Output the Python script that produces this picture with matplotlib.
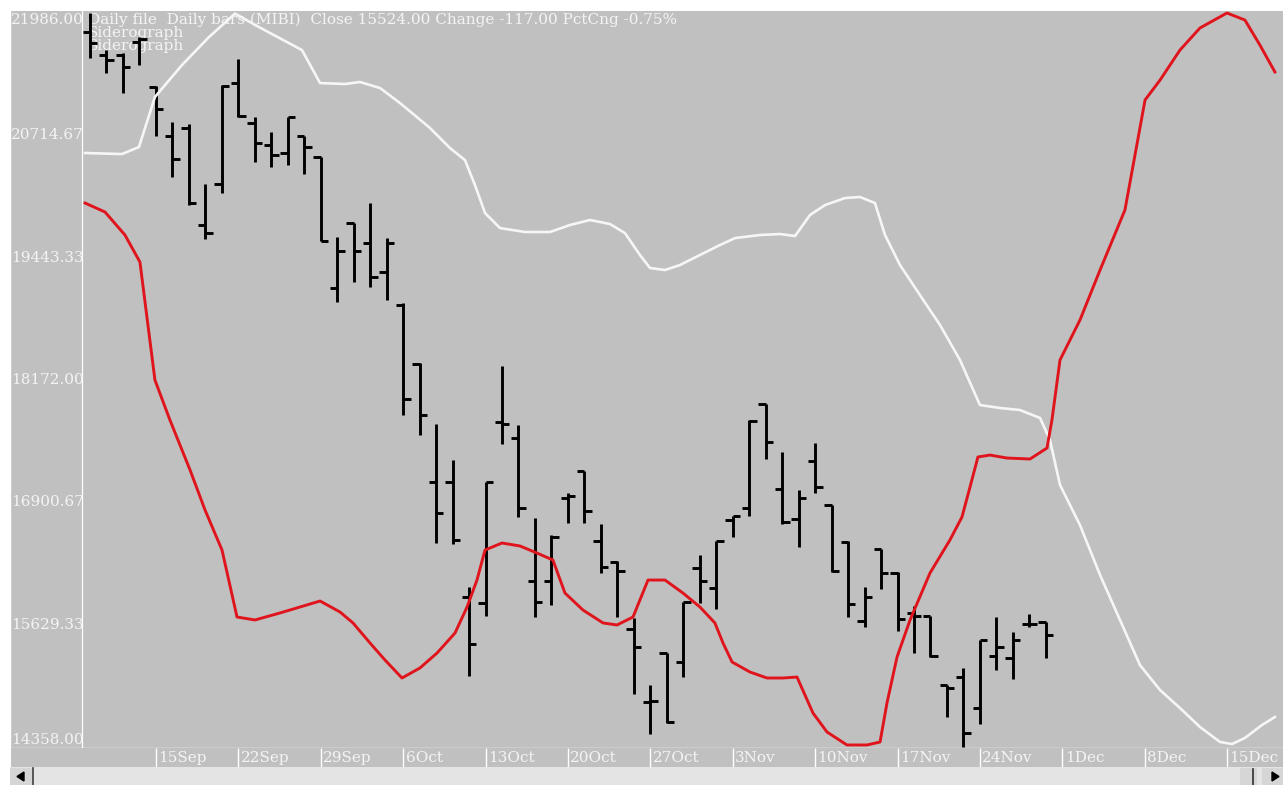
import numpy as np
import matplotlib
matplotlib.use("Agg")
import matplotlib.pyplot as plt
from matplotlib.patches import Rectangle, Polygon

# ---------------- data ----------------
bar_open = [21788, 21549, 21549, 21684, 21217, 20708, 20791, 19783, 20209, 21258,
            20843, 20614, 20531, 20708, 20489, 19128, 19803, 19596, 19294, 18951,
            18339, 17112, 17112, 15917, 15854, 17735, 17569, 16083, 16083, 16946,
            17226, 16499, 16281, 15584, 14826, 15335, 15241, 16218, 16010, 16717,
            16842, 17922, 17039, 16727, 17330, 16873, 16488, 15667, 16416, 16166,
            15751, 15719, 15002, 15085, 14763, 15304, 15283, 15636, 15657]
bar_high = [21986, 21601, 21570, 21736, 21227, 20853, 20832, 20209, 21238, 21508,
            20905, 20749, 20905, 20708, 20489, 19658, 19803, 20011, 19648, 18972,
            18349, 17715, 17341, 16021, 17112, 18317, 17704, 16738, 16561, 16998,
            17226, 16675, 16291, 15699, 15002, 15335, 15865, 16353, 16499, 16759,
            17756, 17922, 17424, 17029, 17517, 16873, 16499, 16021, 16416, 16177,
            15823, 15719, 15002, 15179, 15470, 15709, 15553, 15740, 15657]
bar_low = [21518, 21362, 21154, 21445, 20708, 20281, 19990, 19637, 20115, 20905,
           20437, 20385, 20406, 20313, 19616, 18982, 19190, 19138, 19003, 17808,
           17600, 16478, 16468, 15096, 15719, 17507, 16748, 15709, 15834, 16686,
           16686, 16166, 15709, 14909, 14493, 14607, 15085, 15854, 15792, 16540,
           16759, 17351, 16675, 16436, 16998, 16177, 15709, 15605, 16000, 15563,
           15335, 15293, 14670, 14358, 14597, 15158, 15065, 15605, 15283]
bar_close = [21674, 21497, 21425, 21716, 20988, 20468, 20011, 19699, 21227, 20915,
             20635, 20510, 20905, 20593, 19616, 19512, 19512, 19242, 19596, 17974,
             17808, 16790, 16509, 15428, 17112, 17715, 16842, 15865, 16540, 16966,
             16811, 16229, 16187, 15397, 14836, 14618, 15865, 16083, 16499, 16759,
             17746, 17528, 16696, 16946, 17060, 16187, 15844, 15917, 16166, 15688,
             15719, 15304, 14971, 14503, 15470, 15397, 15470, 15641, 15524]

# Siderograph curves (x in trading-day units, bar 0 = first bar)
white_x = [-0.30, 1.94, 2.97, 3.94, 5.58, 7.22, 8.80, 10.25, 12.86, 13.96, 15.47, 16.38,
           17.60, 18.81, 20.63, 21.84, 22.75, 23.36, 23.97, 24.88, 26.40, 27.91, 29.13,
           30.34, 31.55, 32.46, 33.37, 33.98, 34.89, 35.80, 37.01, 38.23, 39.14, 40.66,
           41.87, 42.78, 43.69, 44.60, 45.81, 46.72, 47.63, 48.24, 49.15, 50.36, 51.58,
           52.79, 54.00, 55.22, 56.43, 57.65, 58.25, 58.86, 60.07, 61.29, 62.50, 63.71,
           64.93, 66.14, 67.35, 68.57, 69.30, 70.08, 71.12, 71.90]
white_v = [20531, 20520, 20593, 21113, 21445, 21736, 21980, 21840, 21601, 21258, 21248, 21269,
           21206, 21050, 20791, 20583, 20458, 20198, 19907, 19751, 19710, 19710, 19783,
           19835, 19793, 19699, 19471, 19336, 19315, 19367, 19471, 19575, 19647, 19679,
           19689, 19668, 19887, 19990, 20063, 20074, 20011, 19679, 19367, 19055, 18743,
           18380, 17912, 17881, 17860, 17777, 17548, 17081, 16665, 16145, 15678, 15210,
           14950, 14763, 14566, 14410, 14389, 14452, 14587, 14670]
red_x = [-0.30, 0.91, 2.12, 3.03, 3.94, 4.85, 6.07, 6.98, 8.01, 8.92, 10.01, 11.53, 13.96,
         15.17, 15.96, 16.99, 17.90, 18.93, 20.02, 21.06, 22.15, 22.88, 23.48, 23.97, 25.00,
         26.09, 27.12, 28.09, 28.82, 29.91, 31.13, 31.98, 32.95, 33.86, 34.89, 35.98, 37.01,
         37.92, 38.41, 38.96, 40.05, 41.08, 42.05, 42.90, 43.87, 44.72, 45.93, 47.15, 47.94,
         48.36, 48.97, 49.76, 50.97, 52.18, 52.91, 53.40, 53.88, 54.61, 55.64, 57.04, 58.07,
         58.37, 58.86, 60.07, 61.29, 62.80, 64.02, 64.93, 66.14, 67.35, 68.99, 70.08, 70.99,
         71.90]
red_v = [20011, 19918, 19679, 19398, 18172, 17756, 17237, 16821, 16405, 15709, 15678, 15751,
         15875, 15761, 15647, 15439, 15262, 15075, 15179, 15335, 15543, 15813, 16093, 16405,
         16478, 16447, 16374, 16301, 15958, 15782, 15647, 15626, 15709, 16093, 16093, 15958,
         15813, 15647, 15439, 15241, 15137, 15075, 15075, 15085, 14711, 14514, 14379, 14379,
         14410, 14815, 15293, 15678, 16166, 16509, 16748, 17060, 17372, 17392, 17361, 17351,
         17465, 17756, 18380, 18795, 19315, 19939, 21082, 21289, 21601, 21830, 21986, 21913,
         21653, 21373]

y_labels = ["21986.00", "20714.67", "19443.33", "18172.00", "16900.67", "15629.33", "14358.00"]
week_labels = ["15Sep", "22Sep", "29Sep", "6Oct", "13Oct", "20Oct", "27Oct", "3Nov",
               "10Nov", "17Nov", "24Nov", "1Dec", "8Dec", "15Dec"]
first_monday_bar = 4
title_text = "Daily file  Daily bars (MIBI)  Close 15524.00 Change -117.00 PctCng -0.75%"
legend_lines = ["Siderograph", "Siderograph"]

# ---------------- layout ----------------
W, H = 1286, 785
BG = "#C0C0C0"
TXT = "#F4F4F4"
FONT = "DejaVu Serif"

fig = plt.figure(figsize=(W / 100, H / 100), dpi=100, facecolor="white")

def fx(px):
    return px / W

def fy(py):
    return 1 - py / H

x0_px, bar_px = 90.0, 16.48
vmin, vmax = 14358.0, 21986.0
py_min, py_max = 747.0, 13.0
per_px = (vmax - vmin) / (py_min - py_max)
left_px, right_px, top_px, bot_px = 10, 1283, 11, 748
xlim = ((left_px - x0_px) / bar_px, (right_px - x0_px) / bar_px)

ax = fig.add_axes([fx(left_px), fy(bot_px), (right_px - left_px) / W, (bot_px - top_px) / H])
ax.set_facecolor(BG)
ax.set_xlim(*xlim)
ax.set_ylim(vmin - (bot_px - py_min) * per_px, vmax + (py_max - top_px) * per_px)
ax.set_xticks([])
ax.set_yticks([])
for s in ["top", "right"]:
    ax.spines[s].set_visible(False)
for s in ["left", "bottom"]:
    ax.spines[s].set_color("white")
    ax.spines[s].set_linewidth(1.0)

# y axis line
ax.axvline((82 - x0_px) / bar_px, color="white", lw=0.9, zorder=1)

# OHLC bars
idx = np.arange(len(bar_open))
tick = 0.45
ax.vlines(idx, bar_low, bar_high, color="black", lw=2.1, zorder=3, capstyle="butt")
ax.hlines(bar_open, idx - tick, idx, color="black", lw=2.1, zorder=3)
ax.hlines(bar_close, idx, idx + tick, color="black", lw=2.1, zorder=3)

# curves
ax.plot(white_x, white_v, color="#F6F6F6", lw=1.9, zorder=4, solid_joinstyle="round")
ax.plot(red_x, red_v, color="#E0141C", lw=2.1, zorder=4, solid_joinstyle="round")

# y labels
xl = (84 - x0_px) / bar_px
for lbl in y_labels:
    v = float(lbl)
    va = "center"
    if v >= vmax:
        va = "top"
    elif v <= vmin:
        va = "bottom"
    ax.text(xl, v, lbl, ha="right", va=va, color=TXT, fontsize=11, family=FONT, zorder=2)

# header texts (under bars)
ax.text(fx(88), fy(20), title_text, transform=fig.transFigure, ha="left", va="center",
        color=TXT, fontsize=11, family=FONT, zorder=2)
for k, t in enumerate(legend_lines):
    ax.text(fx(88), fy(33 + 13 * k), t, transform=fig.transFigure, ha="left", va="center",
            color=TXT, fontsize=11, family=FONT, zorder=2)

# date band
bx = fig.add_axes([fx(left_px), fy(767), (right_px - left_px) / W, (767 - bot_px) / H])
bx.set_facecolor(BG)
bx.set_xlim(*xlim)
bx.set_ylim(0, 1)
bx.set_xticks([])
bx.set_yticks([])
for s in bx.spines.values():
    s.set_visible(False)
bx.spines["left"].set_visible(True)
bx.spines["left"].set_color("white")
tick_pos = first_monday_bar + 5 * np.arange(len(week_labels))
bx.vlines(tick_pos, 0, 1, color="white", lw=1.0)
for t, lbl in zip(tick_pos, week_labels):
    bx.text(t + 0.15, 0.45, lbl, ha="left", va="center", color=TXT, fontsize=11, family=FONT)

# scrollbar
sx = fig.add_axes([fx(left_px), 0, (right_px - left_px) / W, (H - 767) / H])
sx.set_xlim(left_px, right_px)
sx.set_ylim(H, 767)
sx.set_facecolor("#E4E4E4")
sx.set_xticks([])
sx.set_yticks([])
for s in sx.spines.values():
    s.set_visible(False)
sx.add_patch(Rectangle((left_px, 768), 23, 17, facecolor="#D6D6D6", edgecolor="none"))
sx.plot([33, 33], [768, 785], color="#404040", lw=1.2)
sx.add_patch(Polygon([(17, 776.5), (24, 772), (24, 781)], closed=True, color="black"))
sx.add_patch(Rectangle((1240, 768), 17, 17, facecolor="#D6D6D6", edgecolor="none"))
sx.plot([1253, 1253], [769, 785], color="#303030", lw=1.2)
sx.add_patch(Rectangle((1262, 768), 21, 17, facecolor="#D6D6D6", edgecolor="none"))
sx.add_patch(Polygon([(1279, 776.5), (1272, 772), (1272, 781)], closed=True, color="black"))

fig.savefig("out.png", dpi=100, facecolor=fig.get_facecolor())
